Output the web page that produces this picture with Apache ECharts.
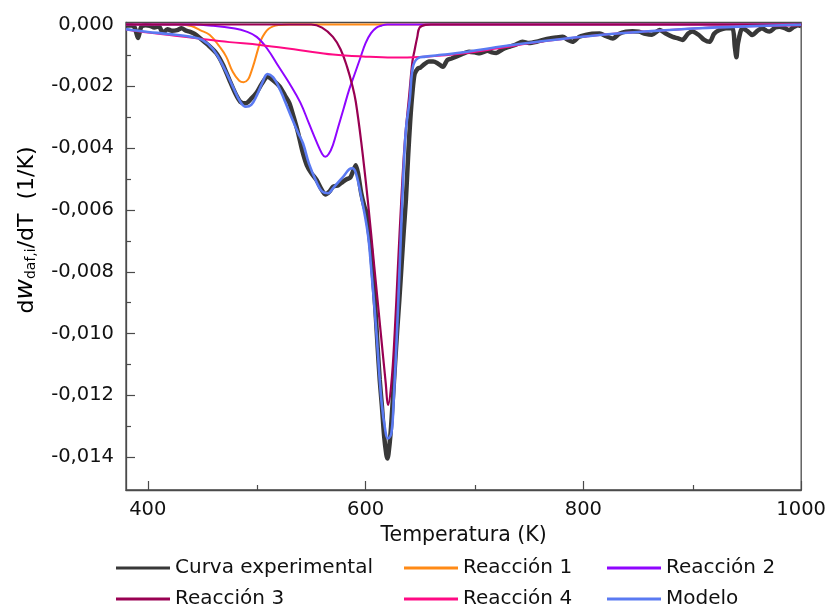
<!DOCTYPE html>
<html>
<head>
<meta charset="utf-8">
<script src="https://cdn.jsdelivr.net/npm/echarts@6/dist/echarts.min.js"></script>
<style>html,body{margin:0;padding:0;background:#fff}#c{width:829px;height:608px}</style>
</head>
<body>
<div id="c"></div>
<script>
// ---- data ----
const xTicks = [400, 600, 800, 1000];
const xMinorTicks = [500, 700, 900];
const yTicks = [0, -0.002, -0.004, -0.006, -0.008, -0.010, -0.012, -0.014];
const yMinorTicks = [-0.001, -0.003, -0.005, -0.007, -0.009, -0.011, -0.013];

const expT = [380,385,388,391,394,398,402,406,410,414,418,422,427,431,435,439,443,448,455,463,469,475,480,485,490,495,500,505,510,515,521,526,530,534,538,542,546,550,555,559,563,567,570,575,579,583,586,589,591,593,596,599,601,603,605,607,609,611,613,615,617,619,620,621,623,625,627,629,631,633,635,637,639,641,643,645,648,650,654,658,662,666,671,675,679,683,689,695,700,705,712,716,720,726,732,738,744,750,757,763,769,775,781,786,790,796,802,808,815,821,827,833,839,845,851,857,863,870,876,882,887,891,896,900,906,911,916,920,925,931,937,939,940.5,942,946,951,955,960,964,968,971,976,980,985,989,993,997,1000];
const expV = [-0.00003,-0.00003,-0.0001,-0.00044,-0.00008,-0.00002,-0.00004,-0.0001,-0.00006,-0.00027,-0.00015,-0.0002,-0.00018,-0.00012,-0.0002,-0.00024,-0.0003,-0.00044,-0.00065,-0.00093,-0.0013,-0.0018,-0.0022,-0.0025,-0.00255,-0.0024,-0.0022,-0.0019,-0.00169,-0.0018,-0.002,-0.0023,-0.00254,-0.003,-0.0035,-0.0041,-0.00455,-0.0048,-0.00503,-0.0053,-0.0055,-0.0054,-0.00525,-0.0052,-0.00509,-0.005,-0.00495,-0.0047,-0.00455,-0.0048,-0.00546,-0.0059,-0.0061,-0.0067,-0.0073,-0.0082,-0.0092,-0.0104,-0.0115,-0.01235,-0.0133,-0.0139,-0.01404,-0.0139,-0.0132,-0.01215,-0.011,-0.0099,-0.0089,-0.0078,-0.0067,-0.00568,-0.0043,-0.0031,-0.0022,-0.0016,-0.00142,-0.0014,-0.00128,-0.0012,-0.0012,-0.00125,-0.00137,-0.00115,-0.0011,-0.00104,-0.00095,-0.00088,-0.0009,-0.00093,-0.00085,-0.0009,-0.00092,-0.0008,-0.00072,-0.00065,-0.00056,-0.0006,-0.00056,-0.0005,-0.00045,-0.00042,-0.0004,-0.0005,-0.00056,-0.0004,-0.00034,-0.0003,-0.00029,-0.00038,-0.00045,-0.0003,-0.00023,-0.00022,-0.00023,-0.0003,-0.00033,-0.00018,-0.0003,-0.0004,-0.00045,-0.0005,-0.0003,-0.00023,-0.00034,-0.0005,-0.00056,-0.0003,-0.00018,-0.00012,-0.00013,-0.0007,-0.00106,-0.0006,-0.00012,-0.00022,-0.00034,-0.0002,-0.00012,-0.0002,-0.00023,-0.0001,-0.00007,-0.00012,-0.00018,-0.00008,-0.00002,-0.00005];

const r1T = [380,430,440,448,457,466,472,478,484,488,492,495,498,501,504,507.5,511,515,520,530,1000];
const r1V = [0,0,-0.00005,-0.00018,-0.00034,-0.00072,-0.00104,-0.00153,-0.00182,-0.00187,-0.00178,-0.00153,-0.0012,-0.00083,-0.0005,-0.00028,-0.00014,-0.00006,-0.00002,0,0];

const r2T = [380,440,460,480,490,500,510,520,530,540,548,555,560,563,566,570,575,580,585,590,595,600,605,610,615,620,1000];
const r2V = [0,0,-0.00004,-0.00013,-0.00022,-0.0004,-0.0008,-0.00135,-0.0019,-0.00252,-0.0032,-0.0038,-0.00418,-0.00428,-0.0042,-0.0039,-0.0033,-0.0027,-0.0021,-0.0016,-0.0011,-0.0006,-0.00028,-0.0001,-0.00003,0,0];

const r3T = [380,550,560,570,577,583,588,591,596,602,608,614,618.5,620.6,623.7,626.7,629.7,632.8,636,640,643,645,647.5,649.6,655,660,1000];
const r3V = [0,0,-0.0001,-0.0004,-0.0008,-0.00137,-0.002,-0.0025,-0.0038,-0.00568,-0.00784,-0.01,-0.0116,-0.01231,-0.0116,-0.01,-0.00784,-0.00568,-0.0038,-0.0023,-0.0012,-0.00083,-0.0004,-0.0001,-0.00001,0,0];

const r4T = [380,400,425,450,475,503,540,570,600,625,650,680,720,760,815,860,906,950,1000];
const r4V = [-0.00016,-0.00026,-0.00036,-0.00047,-0.00057,-0.00066,-0.00083,-0.00097,-0.00104,-0.00107,-0.00105,-0.00097,-0.00078,-0.00056,-0.00034,-0.00022,-0.00012,-0.00006,-0.00002];

const modT = [380,385,400,420,440,450,460,470,478,485,490,495,500,505,510,515,520,525,533,538,542.6,548,555,560,565.6,570,575,580,585,588,591,596,602,605,610,614.5,618.5,620.6,623.7,625.8,628.8,631.3,633.7,636.8,640.5,643.5,648,655,670,690,723,760,815,860,906,950,1000];
const modV = [-0.00015,-0.00018,-0.00024,-0.00031,-0.0004,-0.0005,-0.0008,-0.0014,-0.002,-0.0025,-0.00266,-0.0026,-0.0023,-0.0019,-0.0016,-0.0017,-0.002,-0.0024,-0.00309,-0.0035,-0.00385,-0.0045,-0.0051,-0.0054,-0.00546,-0.0053,-0.0051,-0.0049,-0.00468,-0.00465,-0.0048,-0.00557,-0.00675,-0.00784,-0.00999,-0.01215,-0.01322,-0.01339,-0.01322,-0.01215,-0.00999,-0.00784,-0.00568,-0.0035,-0.00244,-0.00137,-0.00109,-0.00104,-0.00098,-0.0009,-0.00072,-0.00055,-0.00034,-0.00022,-0.00012,-0.00006,-0.00001];

const seriesNames = ['Curva experimental','Reacción 1','Reacción 2','Reacción 3','Reacción 4','Modelo'];
// ---------------------------------------

const pairs = (t, v) => t.map((x, i) => [x, v[i]]);
const FONT = 'DejaVu Sans';
const chart = echarts.init(document.getElementById('c'), null, {renderer: 'canvas'});

const X_MIN = 380, X_MAX = 1000, Y_MIN = -0.01506, Y_MAX = 0.000065;
const axisColor = '#4a4a4a';
const fmtY = v => (Math.abs(v) < 1e-12 ? '0,000' : v.toFixed(3).replace('.', ','));
const fmtX = v => String(Math.round(v));

const colors = ['#383838', '#ff8a16', '#8f05ff', '#990052', '#ff0a84', '#5a7af2'];

function line(i, data, width, z, smooth) {
  return {
    name: seriesNames[i], type: 'line', data, symbol: 'none', smooth: smooth, z,
    lineStyle: {color: colors[i], width}, itemStyle: {color: colors[i]}, animation: false
  };
}

const gridBox = {left: 126, right: 27, top: 22.5, bottom: 118};
const legendPos = [[116, 557], [404, 557], [607, 557], [116, 588], [404, 588], [607, 588]];

chart.setOption({
  animation: false,
  backgroundColor: '#fff',
  grid: [
    Object.assign({show: true, borderColor: axisColor, borderWidth: 1.3, backgroundColor: 'transparent'}, gridBox),
    Object.assign({show: false}, gridBox)
  ],
  xAxis: [{
    gridIndex: 0, type: 'value', min: X_MIN, max: X_MAX, position: 'bottom',
    name: 'Temperatura (K)', nameLocation: 'middle', nameGap: 34,
    nameTextStyle: {fontFamily: FONT, fontSize: 20.5, color: '#111'},
    axisLine: {show: true, onZero: false, lineStyle: {color: axisColor, width: 1.3}},
    axisTick: {show: true, inside: true, length: 9, customValues: xTicks, lineStyle: {color: axisColor, width: 1.2}},
    axisLabel: {show: true, customValues: xTicks, formatter: fmtX, margin: 10, fontFamily: FONT, fontSize: 19.5, color: '#111'},
    splitLine: {show: false}
  }, {
    gridIndex: 1, type: 'value', min: X_MIN, max: X_MAX, position: 'bottom',
    axisLine: {show: false, onZero: false},
    axisTick: {show: true, inside: true, length: 5, customValues: xMinorTicks, lineStyle: {color: axisColor, width: 1.2}},
    axisLabel: {show: false}, splitLine: {show: false}
  }],
  yAxis: [{
    gridIndex: 0, type: 'value', min: Y_MIN, max: Y_MAX, position: 'left',
    axisLine: {show: true, onZero: false, lineStyle: {color: axisColor, width: 1.3}},
    axisTick: {show: true, inside: true, length: 9, customValues: yTicks, lineStyle: {color: axisColor, width: 1.2}},
    axisLabel: {show: true, customValues: yTicks, margin: 12, formatter: fmtY, fontFamily: FONT, fontSize: 19.5, color: '#111'},
    splitLine: {show: false}
  }, {
    gridIndex: 1, type: 'value', min: Y_MIN, max: Y_MAX, position: 'left',
    axisLine: {show: false, onZero: false},
    axisTick: {show: true, inside: true, length: 5, customValues: yMinorTicks, lineStyle: {color: axisColor, width: 1.2}},
    axisLabel: {show: false}, splitLine: {show: false}
  }],
  legend: seriesNames.map((nm, k) => ({
    left: legendPos[k][0], top: legendPos[k][1], padding: 0,
    orient: 'horizontal', icon: 'rect', itemWidth: 54, itemHeight: 3,
    selectedMode: false, data: [nm],
    textStyle: {fontFamily: FONT, fontSize: 20, color: '#111', lineHeight: 22}
  })),
  graphic: [{
    type: 'text', x: 24, y: 230, rotation: Math.PI / 2,
    style: {
      text: '{n|d}{w|w}{s|daf,i}{n|/dT  (1/K)}',
      align: 'center', verticalAlign: 'middle',
      rich: {
        n: {fontFamily: FONT, fontSize: 22, color: '#111', lineHeight: 28, verticalAlign: 'bottom'},
        w: {fontFamily: FONT, fontSize: 25, fontStyle: 'italic', color: '#111', lineHeight: 28, verticalAlign: 'bottom'},
        s: {fontFamily: FONT, fontSize: 14, color: '#111', lineHeight: 14, verticalAlign: 'bottom'}
      }
    }
  }],
  series: [
    line(0, pairs(expT, expV), 4.5, 2, 0.25),
    line(1, pairs(r1T, r1V), 2, 3, 0.4),
    line(2, pairs(r2T, r2V), 2, 3, 0.4),
    line(3, pairs(r3T, r3V), 2.2, 3, 0.4),
    line(4, pairs(r4T, r4V), 2, 3, 0.4),
    line(5, pairs(modT, modV), 2.6, 4, 0.4)
  ]
});
</script>
</body>
</html>
